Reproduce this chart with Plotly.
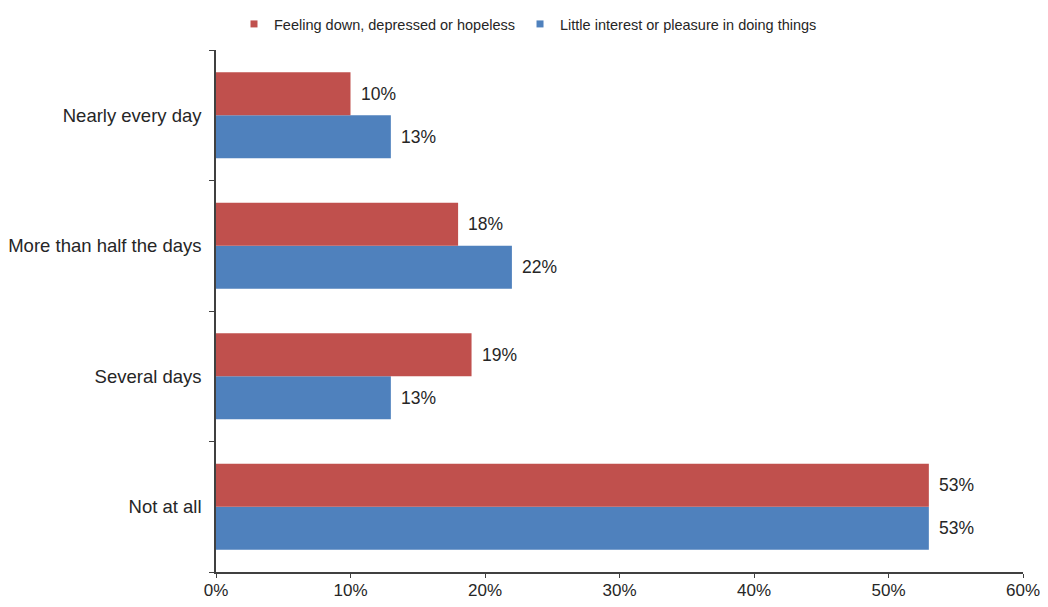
import plotly.graph_objects as go

categories = ["Not at all", "Several days", "More than half the days", "Nearly every day"]
feeling_down = [53, 19, 18, 10]
little_interest = [53, 13, 22, 13]
x_ticks = [0, 10, 20, 30, 40, 50, 60]
x_tick_labels = ["0%", "10%", "20%", "30%", "40%", "50%", "60%"]

RED = "#C0504D"
BLUE = "#4F81BD"
FONT = "Liberation Sans, Arial, sans-serif"
TXT = "#262626"

# page body has an 8px default margin; compensate so the plot lands where the reference has it
W, H = 1040, 599
ML, MR, MT, MB = 208, 25, 42, 35

fig = go.Figure()
fig.add_trace(go.Bar(
    y=categories, x=little_interest, orientation="h",
    name="Little interest or pleasure in doing things",
    marker=dict(color=BLUE, line=dict(width=0)), showlegend=False,
))
fig.add_trace(go.Bar(
    y=categories, x=feeling_down, orientation="h",
    name="Feeling down, depressed or hopeless",
    marker=dict(color=RED, line=dict(width=0)), showlegend=False,
))
# legend entries with small square markers
fig.add_trace(go.Scatter(x=[None], y=[None], mode="markers", name="Feeling down, depressed or hopeless",
                         marker=dict(symbol="square", size=7, color=RED), legendrank=1))
fig.add_trace(go.Scatter(x=[None], y=[None], mode="markers", name="Little interest or pleasure in doing things",
                         marker=dict(symbol="square", size=7, color=BLUE), legendrank=2))

# value labels
plot_h = H - MT - MB
band = plot_h / len(categories)
half = band * (1 - 0.34) / 4
for cat, v in zip(categories, feeling_down):
    fig.add_annotation(x=v, y=cat, text=f"{v}%", showarrow=False, xanchor="left",
                       xshift=8, yshift=half, font=dict(size=17.5, color=TXT, family=FONT))
for cat, v in zip(categories, little_interest):
    fig.add_annotation(x=v, y=cat, text=f"{v}%", showarrow=False, xanchor="left",
                       xshift=8, yshift=-half, font=dict(size=17.5, color=TXT, family=FONT))

fig.update_layout(
    width=W, height=H,
    margin=dict(l=ML, r=MR, t=MT, b=MB, autoexpand=False),
    paper_bgcolor="white", plot_bgcolor="white",
    barmode="group", bargap=0.34, bargroupgap=0,
    font=dict(family=FONT, size=17, color=TXT),
    showlegend=True,
    legend=dict(orientation="h", x=0.5, xanchor="center", xref="container",
                y=1.0, yanchor="top", yref="container",
                font=dict(size=14.5, color=TXT), traceorder="normal",
                itemwidth=30, tracegroupgap=0),
    xaxis=dict(
        range=[0, 60], tickvals=x_ticks, ticktext=x_tick_labels, automargin=False,
        showgrid=False, zeroline=False, showline=True, linecolor="#404040", linewidth=1.5,
        ticks="outside", ticklen=4, tickcolor="#404040",
        tickfont=dict(size=17, color=TXT), ticklabelstandoff=-2,
    ),
    yaxis=dict(
        categoryorder="array", categoryarray=categories, automargin=False,
        showgrid=False, zeroline=False, showline=True, linecolor="#404040", linewidth=1.5,
        ticks="outside", ticklen=5, tickcolor="#404040", tickson="boundaries",
        tickfont=dict(size=18.5, color=TXT), ticklabelstandoff=9,
    ),
)

fig.write_html("out.html")
